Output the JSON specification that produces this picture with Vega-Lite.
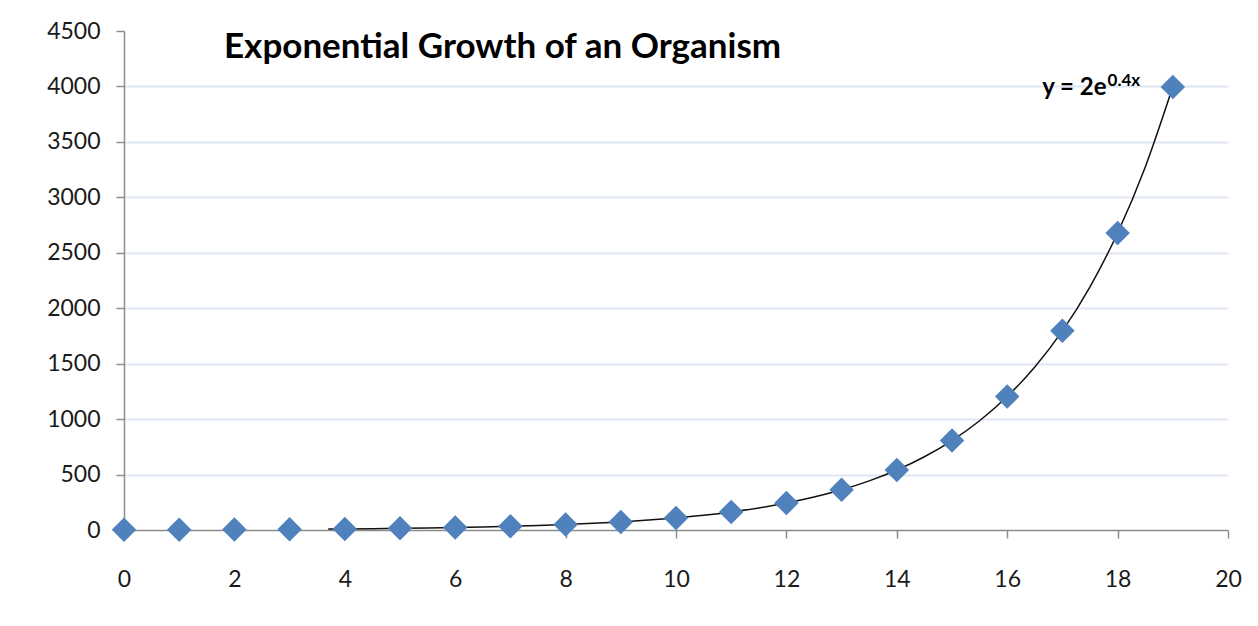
{
  "$schema": "https://vega.github.io/schema/vega-lite/v6.json",
  "width": 1104,
  "height": 499,
  "autosize": {"type": "none"},
  "padding": {"left": 124, "top": 31, "right": 30, "bottom": 96},
  "background": "white",
  "config": {
    "view": {"stroke": null},
    "font": "Lato",
    "axis": {"labelFont": "Lato", "labelFontSize": 22, "labelColor": "#1a1a1a", "domainColor": "#8c8c8c", "tickColor": "#8c8c8c", "domainWidth": 1.5, "tickWidth": 1.5, "tickSize": 8, "labelFlush": false, "labelOverlap": false, "format": "d"}
  },
  "title": {
    "text": "Exponential Growth of an Organism",
    "anchor": "start",
    "frame": "group",
    "font": "Lato",
    "fontSize": 35,
    "fontWeight": "bold",
    "color": "#000000",
    "baseline": "middle",
    "dx": 100,
    "dy": 62,
    "offset": 0
  },
  "datasets": {
    "points": [
      {"x": 0, "y": 2}, {"x": 1, "y": 3}, {"x": 2, "y": 4.5}, {"x": 3, "y": 6.6},
      {"x": 4, "y": 9.9}, {"x": 5, "y": 14.8}, {"x": 6, "y": 22}, {"x": 7, "y": 33},
      {"x": 8, "y": 49}, {"x": 9, "y": 73}, {"x": 10, "y": 109}, {"x": 11, "y": 163},
      {"x": 12, "y": 243}, {"x": 13, "y": 363}, {"x": 14, "y": 541}, {"x": 15, "y": 807},
      {"x": 16, "y": 1204}, {"x": 17, "y": 1796}, {"x": 18, "y": 2679}, {"x": 19, "y": 3996}
    ],
    "trend": [
      {"x": 3.7, "y": 8.79}, {"x": 4, "y": 9.91}, {"x": 4.5, "y": 12.1}, {"x": 5, "y": 14.78},
      {"x": 5.5, "y": 18.05}, {"x": 6, "y": 22.05}, {"x": 6.5, "y": 26.93}, {"x": 7, "y": 32.89},
      {"x": 7.5, "y": 40.17}, {"x": 8, "y": 49.07}, {"x": 8.5, "y": 59.93}, {"x": 9, "y": 73.2},
      {"x": 9.5, "y": 89.4}, {"x": 10, "y": 109.2}, {"x": 10.5, "y": 133.37}, {"x": 11, "y": 162.9},
      {"x": 11.5, "y": 198.97}, {"x": 12, "y": 243.02}, {"x": 12.5, "y": 296.83}, {"x": 13, "y": 362.54},
      {"x": 13.5, "y": 442.83}, {"x": 14, "y": 540.87}, {"x": 14.5, "y": 660.63}, {"x": 15, "y": 806.86},
      {"x": 15.5, "y": 985.5}, {"x": 16, "y": 1203.7}, {"x": 16.5, "y": 1470.21}, {"x": 17, "y": 1795.69},
      {"x": 17.5, "y": 2193.27}, {"x": 18, "y": 2678.87}, {"x": 18.5, "y": 3271.96}, {"x": 19, "y": 3996.39}
    ],
    "label": [
      {"x": 17.8, "y": 4000, "main": "y = 2e", "sup": "0.4x"}
    ]
  },
  "layer": [
    {
      "data": {"name": "trend"},
      "mark": {"type": "line", "color": "#111111", "strokeWidth": 1.5, "interpolate": "monotone"},
      "encoding": {
        "x": {"field": "x", "type": "quantitative", "scale": {"domain": [0, 20], "nice": false},
          "axis": {"values": [0, 2, 4, 6, 8, 10, 12, 14, 16, 18, 20], "grid": false, "title": null, "labelPadding": 30, "labelFontSize": 23}},
        "y": {"field": "y", "type": "quantitative", "scale": {"domain": [0, 4500], "nice": false},
          "axis": {"values": [0, 500, 1000, 1500, 2000, 2500, 3000, 3500, 4000, 4500], "title": null, "labelPadding": 16, "labelFontSize": 23,
            "grid": true, "gridWidth": 2,
            "gridColor": {"condition": {"test": "datum.value >= 4500 || datum.value <= 0", "value": "transparent"}, "value": "#dfe7f2"}}}
      }
    },
    {
      "data": {"name": "points"},
      "mark": {"type": "point", "shape": "diamond", "filled": true, "size": 600, "color": "#4f81bd", "opacity": 1},
      "encoding": {
        "x": {"field": "x", "type": "quantitative"},
        "y": {"field": "y", "type": "quantitative"}
      }
    },
    {
      "data": {"name": "label"},
      "mark": {"type": "text", "align": "right", "baseline": "middle", "fontSize": 24, "fontWeight": "bold", "color": "#000000", "font": "Lato", "dy": 2},
      "encoding": {
        "x": {"field": "x", "type": "quantitative"},
        "y": {"field": "y", "type": "quantitative"},
        "text": {"field": "main"}
      }
    },
    {
      "data": {"name": "label"},
      "mark": {"type": "text", "align": "left", "baseline": "middle", "fontSize": 17, "fontWeight": "bold", "color": "#000000", "font": "Lato", "dx": 1, "dy": -5},
      "encoding": {
        "x": {"field": "x", "type": "quantitative"},
        "y": {"field": "y", "type": "quantitative"},
        "text": {"field": "sup"}
      }
    }
  ]
}
